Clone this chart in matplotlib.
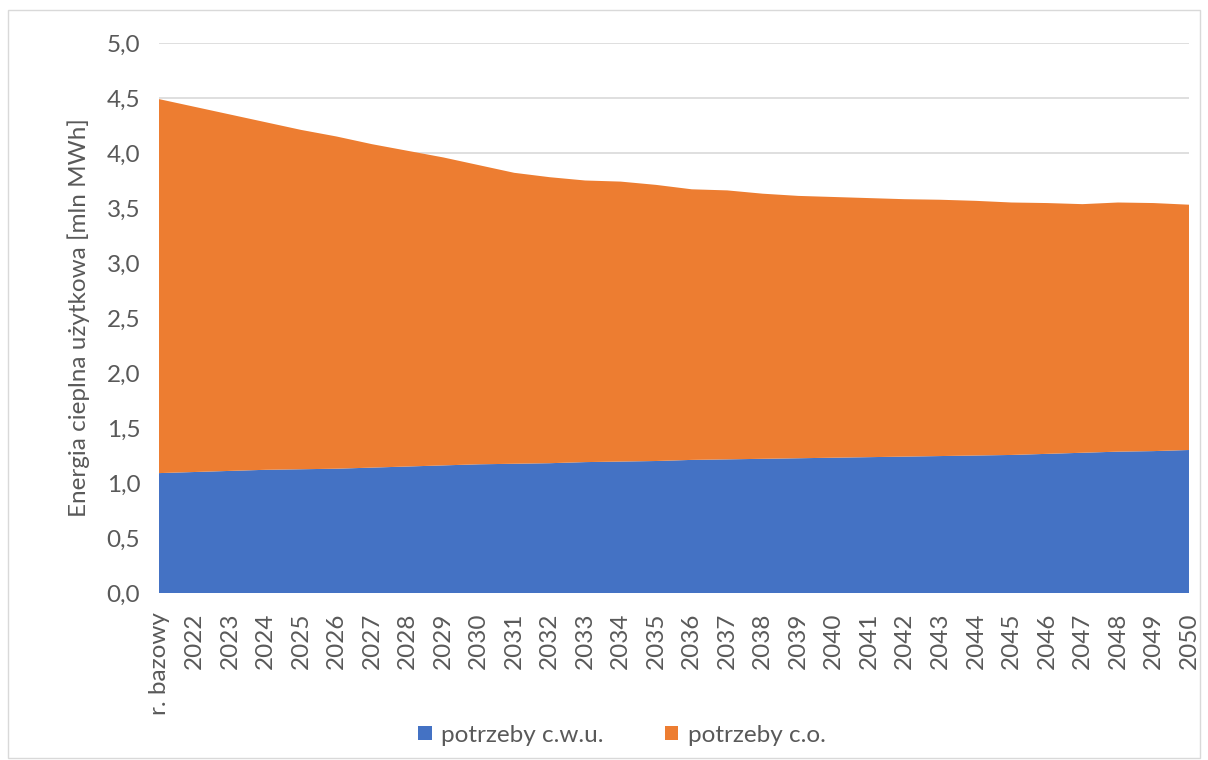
import matplotlib.pyplot as plt
from matplotlib.patches import Rectangle
from matplotlib.ticker import FuncFormatter

# Data
years = ["r. bazowy"] + [str(y) for y in range(2022, 2051)]
cwu = [1.09, 1.10, 1.11, 1.12, 1.125, 1.13, 1.14, 1.15, 1.16, 1.17,
       1.175, 1.18, 1.19, 1.195, 1.20, 1.21, 1.215, 1.22, 1.225, 1.23,
       1.235, 1.24, 1.245, 1.25, 1.255, 1.265, 1.275, 1.285, 1.29, 1.30]
total = [4.49, 4.42, 4.35, 4.28, 4.21, 4.15, 4.08, 4.02, 3.96, 3.89,
         3.82, 3.78, 3.75, 3.74, 3.71, 3.67, 3.66, 3.63, 3.61, 3.60,
         3.59, 3.58, 3.575, 3.565, 3.55, 3.545, 3.535, 3.55, 3.545, 3.53]
co = [t - c for t, c in zip(total, cwu)]

BLUE = "#4472C4"
ORANGE = "#ED7D31"
TXT = "#595959"
FS = 17.5

plt.rcParams['font.family'] = ['Lato', 'DejaVu Sans']

fig = plt.figure(figsize=(12.08, 7.6), dpi=100)
ax = fig.add_axes([159 / 1208, 1 - 593 / 760, 1030 / 1208, 550 / 760])

x = list(range(len(years)))
ax.stackplot(x, cwu, co, colors=[BLUE, ORANGE], labels=["potrzeby c.w.u.", "potrzeby c.o."],
             linewidth=0, zorder=2)

ax.set_xlim(0, len(years) - 1)
ax.set_ylim(0, 5)
ax.set_yticks([i * 0.5 for i in range(11)])
ax.yaxis.set_major_formatter(FuncFormatter(lambda v, p: f"{v:.1f}".replace(".", ",")))
ax.grid(axis='y', color="#d9d9d9", linewidth=1.2, zorder=1)
ax.set_axisbelow(True)
for s in ax.spines.values():
    s.set_visible(False)

ax.set_xticks(x)
ax.set_xticklabels(years, rotation=90)
ax.tick_params(axis='both', length=0, labelsize=FS, labelcolor=TXT)
ax.tick_params(axis='y', pad=13.5)
ax.tick_params(axis='x', pad=14)

ax.set_ylabel("Energia cieplna użytkowa [mln MWh]", fontsize=FS, color=TXT)
ax.yaxis.set_label_coords(-0.067, 0.5)

leg = fig.legend(loc='center', bbox_to_anchor=(622 / 1208, 1 - 735 / 760), ncol=2, frameon=False,
                 fontsize=FS, handlelength=0.55, handleheight=0.55, columnspacing=2.5,
                 handletextpad=0.4)
for t in leg.get_texts():
    t.set_color(TXT)

fig.patches.append(Rectangle((8 / 1208, 2 / 760), 1192 / 1208, 748 / 760, transform=fig.transFigure,
                             fill=False, edgecolor="#d9d9d9", linewidth=1))

fig.savefig("out.png", dpi=100)
